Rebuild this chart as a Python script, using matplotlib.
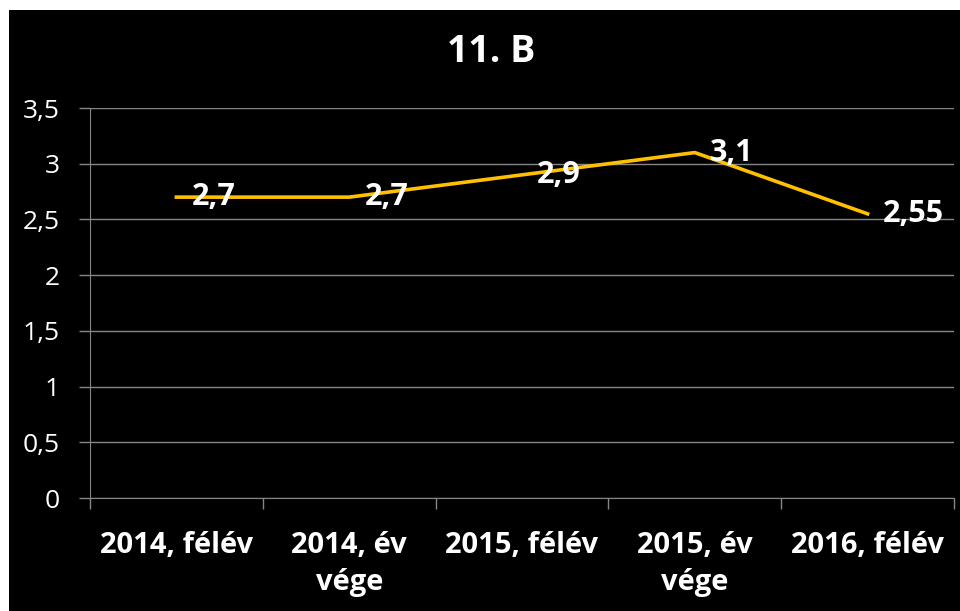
import matplotlib
matplotlib.use("Agg")
import matplotlib.pyplot as plt
from matplotlib.patches import Rectangle
from matplotlib.ticker import FixedLocator, FuncFormatter

# Adatok
categories = ["2014, félév", "2014, év\nvége", "2015, félév", "2015, év\nvége", "2016, félév"]
values = [2.7, 2.7, 2.9, 3.1, 2.55]
value_labels = ["2,7", "2,7", "2,9", "3,1", "2,55"]
y_ticks = [0, 0.5, 1, 1.5, 2, 2.5, 3, 3.5]

plt.rcParams['font.family'] = ['Open Sans', 'DejaVu Sans']

fig = plt.figure(figsize=(9.6, 6.11), dpi=100)
fig.patch.set_facecolor('white')
# fekete háttér (bal és felső szélen fehér csík marad)
fig.patches.append(Rectangle((9 / 960, 0), 1, 1 - 10 / 611, transform=fig.transFigure,
                             facecolor='black', edgecolor='none', zorder=-10))

ax = fig.add_axes([90 / 960, 1 - 498 / 611, 864 / 960, 390 / 611])
ax.set_facecolor('black')

x = list(range(len(values)))
ax.plot(x, values, color='#FFC000', linewidth=2.6, zorder=3)

for xi, v, lab in zip(x, values, value_labels):
    ax.annotate(lab, (xi, v), xytext=(11, 0), textcoords='offset points',
                ha='left', va='center', color='white', fontsize=22, fontweight='bold', zorder=4)

ax.set_xlim(-0.5, len(values) - 0.5)
ax.set_ylim(0, 3.5)

# y tengely
ax.set_yticks(y_ticks)
ax.yaxis.set_major_formatter(FuncFormatter(lambda v, p: f"{v:g}".replace('.', ',')))
ax.tick_params(axis='y', colors='#868686', labelcolor='white', labelsize=19, length=8, width=1, pad=14)
ax.grid(axis='y', color='#868686', linewidth=1)
ax.set_axisbelow(True)

# x tengely: osztásjelek a kategóriák határán, feliratok középen
ax.xaxis.set_major_locator(FixedLocator([i - 0.5 for i in range(len(values) + 1)]))
ax.xaxis.set_major_formatter(FuncFormatter(lambda v, p: ""))
ax.xaxis.set_minor_locator(FixedLocator(x))
ax.set_xticklabels(categories, minor=True)
ax.tick_params(axis='x', which='major', colors='#868686', length=8, width=1)
ax.tick_params(axis='x', which='minor', length=0, labelcolor='white', labelsize=21, pad=24)
for t in ax.get_xticklabels(minor=True):
    t.set_fontweight('bold')
    t.set_linespacing(1.35)

for side in ['top', 'right']:
    ax.spines[side].set_visible(False)
ax.spines['left'].set_color('#868686')
ax.spines['bottom'].set_color('#868686')

fig.text(491 / 960, 1 - 52 / 611, "11. B", color='white', fontsize=27, fontweight='bold',
         ha='center', va='center')

fig.savefig("out.png", dpi=100, facecolor=fig.get_facecolor())
